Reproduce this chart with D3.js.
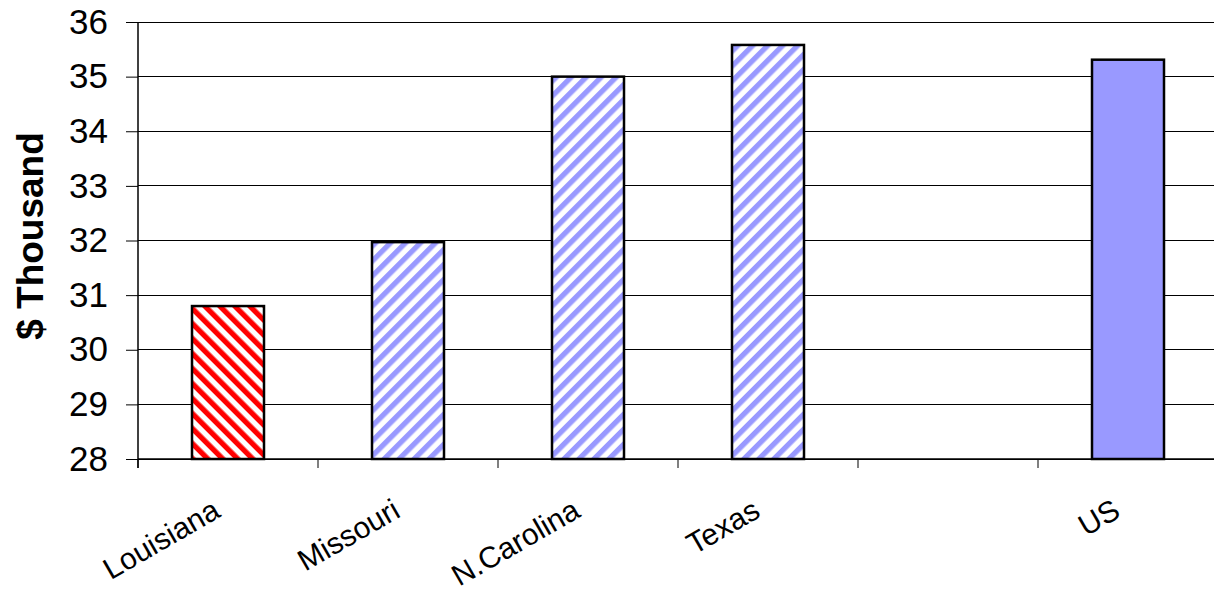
<!DOCTYPE html>
<html><head><meta charset="utf-8">
<script src="https://cdn.jsdelivr.net/npm/d3@7"></script>
<style>body{margin:0;background:#fff}svg{display:block}</style>
</head><body>
<script>
const categories = ["Louisiana", "Missouri", "N.Carolina", "Texas", "", "US"];
const values = [30.8, 31.97, 35.0, 35.58, null, 35.31];
const fills = ["red", "blue", "blue", "blue", null, "solid"];
const yTicks = [28, 29, 30, 31, 32, 33, 34, 35, 36];
const yLabel = "$ Thousand";

(function () {
const W = 1214, H = 591;
const mLeft = 138, mRight = 1218, mTop = 22, mBottom = 459;
const svg = d3.select("body").append("svg").attr("width", W).attr("height", H);
const defs = svg.append("defs");
function stripe(id, color, dir) {
  const p = defs.append("pattern").attr("id", id).attr("patternUnits", "userSpaceOnUse")
    .attr("width", 10.6).attr("height", 10.6).attr("patternTransform", `rotate(${dir})`);
  p.append("rect").attr("width", 10.6).attr("height", 10.6).attr("fill", "#fff");
  p.append("rect").attr("width", 5.3).attr("height", 10.6).attr("fill", color);
}
stripe("pRed", "#ff0000", -45);
stripe("pBlue", "#9999ff", 45);

const x = d3.scaleBand().domain(d3.range(categories.length)).range([mLeft, mRight]).paddingInner(0).paddingOuter(0);
const y = d3.scaleLinear().domain([28, 36]).range([mBottom, mTop]);

svg.append("g").selectAll("line").data(yTicks).join("line")
  .attr("x1", mLeft).attr("x2", W).attr("y1", d => y(d)).attr("y2", d => y(d))
  .attr("stroke", "#000").attr("stroke-width", 1).attr("shape-rendering", "crispEdges");

const bw = 72;
svg.append("g").selectAll("rect").data(values.map((v, i) => ({v, i})).filter(d => d.v != null)).join("rect")
  .attr("x", d => x(d.i) + x.bandwidth() / 2 - bw / 2)
  .attr("width", bw)
  .attr("y", d => y(d.v))
  .attr("height", d => y(28) - y(d.v))
  .attr("fill", d => fills[d.i] === "red" ? "url(#pRed)" : fills[d.i] === "blue" ? "url(#pBlue)" : "#9999ff")
  .attr("stroke", "#000").attr("stroke-width", 2.5);

const yAxis = d3.axisLeft(y).tickValues(yTicks).tickSize(12).tickPadding(18).tickFormat(d3.format("d"));
const gy = svg.append("g").attr("transform", `translate(${mLeft},0)`).call(yAxis);
gy.select(".domain").attr("d", `M0,${mTop}V${mBottom + 9}`).attr("stroke", "#000").attr("stroke-width", 1.5);
gy.selectAll(".tick line").attr("stroke", "#000");
gy.selectAll("text").attr("font-family", "Liberation Sans, Arial, sans-serif").attr("font-size", 35).attr("fill", "#000");

const xb = d3.scaleLinear().domain([0, categories.length]).range([mLeft, mRight]);
const gx = svg.append("g").attr("transform", `translate(0,${mBottom})`);
gx.append("line").attr("x1", mLeft).attr("x2", W).attr("y1", 0).attr("y2", 0).attr("stroke", "#000").attr("stroke-width", 1.5);
gx.selectAll(".xt").data(d3.range(categories.length)).join("line").attr("class", "xt")
  .attr("x1", d => xb(d)).attr("x2", d => xb(d)).attr("y1", 0).attr("y2", 9)
  .attr("stroke", "#000").attr("stroke-width", 1);
gx.selectAll("text").data(categories.map((c, i) => ({c, i})).filter(d => d.c)).join("text")
  .attr("transform", d => `translate(${x(d.i) + x.bandwidth() / 2 - 6},${57}) rotate(-30)`)
  .attr("text-anchor", "end")
  .attr("font-family", "Liberation Sans, Arial, sans-serif").attr("font-size", 30)
  .text(d => d.c);

svg.append("text").attr("transform", `translate(43,236) rotate(-90)`)
  .attr("text-anchor", "middle").attr("font-family", "Liberation Sans, Arial, sans-serif")
  .attr("font-size", 37).attr("font-weight", "bold").text(yLabel);
})();
</script>
</body></html>
